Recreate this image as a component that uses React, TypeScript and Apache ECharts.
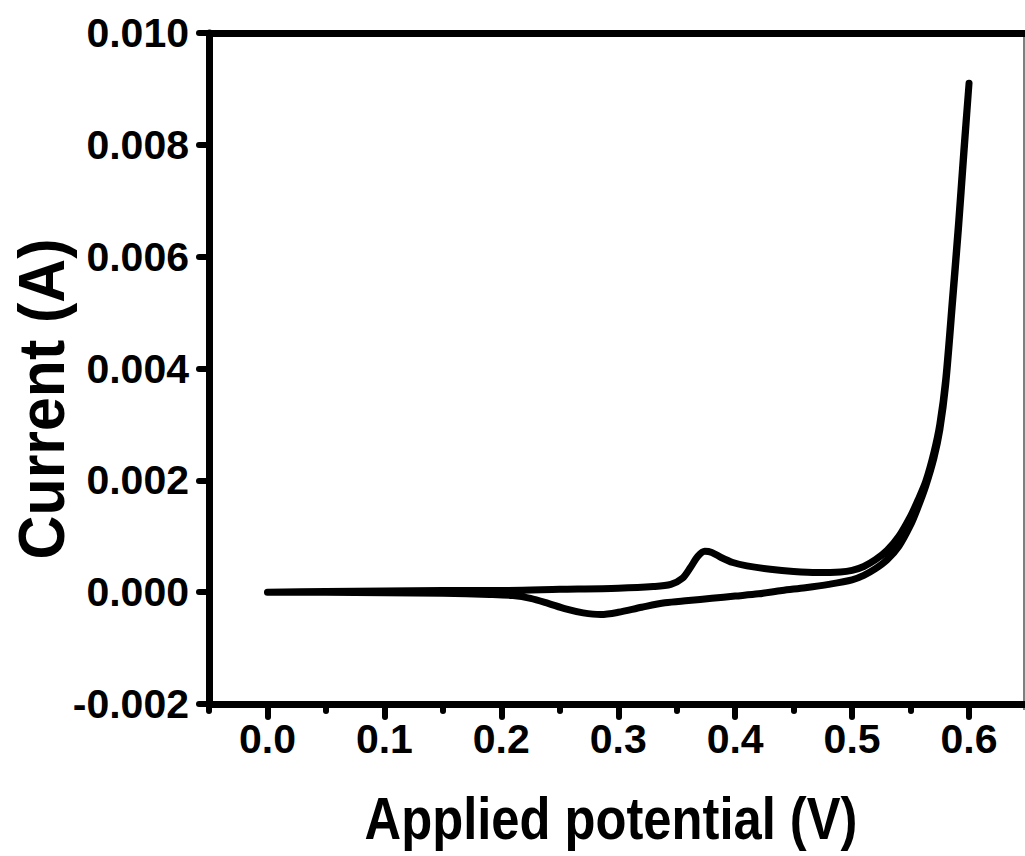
import React, { useEffect, useRef } from "react";
import * as echarts from "echarts";

// Forward scan (V, A)
const forwardPotential = [
  0.0, 0.05, 0.1, 0.15, 0.2, 0.25, 0.3, 0.33, 0.345, 0.355, 0.362, 0.368, 0.374,
  0.38, 0.388, 0.398, 0.41, 0.43, 0.45, 0.47, 0.49, 0.5, 0.51, 0.52, 0.53, 0.54,
  0.55, 0.556, 0.563, 0.57, 0.575, 0.58, 0.586, 0.591, 0.5955, 0.6,
];
const forwardCurrent = [
  0.0, 0.00001, 0.00002, 0.00003, 0.00003, 0.00005, 0.00007, 0.0001, 0.00014,
  0.00025, 0.00045, 0.00064, 0.00073, 0.00071, 0.00062, 0.00053, 0.00047,
  0.00041, 0.00037, 0.00035, 0.00036, 0.00039, 0.00046, 0.00058, 0.00075, 0.001,
  0.00136, 0.00163, 0.00198, 0.0025, 0.003, 0.0038, 0.0053, 0.0066, 0.0079, 0.0091,
];
// Reverse scan (V, A)
const reversePotential = [
  0.5955, 0.591, 0.586, 0.58, 0.575, 0.57, 0.563, 0.556, 0.55, 0.54, 0.53, 0.52,
  0.51, 0.5, 0.48, 0.46, 0.44, 0.42, 0.4, 0.38, 0.36, 0.34, 0.32, 0.3, 0.285,
  0.27, 0.255, 0.24, 0.225, 0.21, 0.19, 0.15, 0.1, 0.05, 0.0,
];
const reverseCurrent = [
  0.0078, 0.0065, 0.0052, 0.0037, 0.0029, 0.0024, 0.0019, 0.0015, 0.0012,
  0.00082, 0.00058, 0.00042, 0.0003, 0.00022, 0.00014, 0.00008, 0.00003,
  -0.00003, -0.00007, -0.00011, -0.00015, -0.00019, -0.00027, -0.00036,
  -0.0004, -0.00037, -0.0003, -0.0002, -0.00011, -0.00006, -0.00004, -0.00002,
  -0.00001, 0.0, 0.0,
];

const xMajorTicks = [0.0, 0.1, 0.2, 0.3, 0.4, 0.5, 0.6];
const xMinorTicks = [-0.05, 0.05, 0.15, 0.25, 0.35, 0.45, 0.55];
const xTitle = "Applied potential (V)";
const yTitle = "Current (A)";

const FONT = '"Liberation Sans", Arial, sans-serif';

export default function App() {
  const ref = useRef<HTMLDivElement>(null);
  useEffect(() => {
    if (!ref.current) return;
    const chart = echarts.init(ref.current, undefined, { renderer: "svg" });
    const data: number[][] = [];
    forwardPotential.forEach((p, i) => data.push([p, forwardCurrent[i]]));
    reversePotential.forEach((p, i) => data.push([p, reverseCurrent[i]]));

    const tickLabel = {
      color: "#000",
      fontFamily: FONT,
      fontWeight: "bold" as const,
      fontSize: 41,
    };

    chart.setOption({
      animation: false,
      backgroundColor: "#fff",
      grid: {
        left: 209,
        right: 2.5,
        top: 33,
        bottom: 152,
        containLabel: false,
        outerBoundsMode: "none",
      },
      xAxis: [
        {
          type: "value",
          min: -0.05,
          max: 0.65,
          position: "bottom",
          axisLine: { show: true, onZero: false, lineStyle: { color: "#000", width: 7 } },
          axisTick: {
            show: true,
            customValues: xMajorTicks,
            length: 13,
            lineStyle: { color: "#000", width: 6, cap: "round" },
          },
          axisLabel: {
            ...tickLabel,
            customValues: xMajorTicks,
            margin: 14,
            formatter: (v: number) => v.toFixed(1),
          },
          splitLine: { show: false },
        },
        {
          type: "value",
          min: -0.05,
          max: 0.65,
          position: "bottom",
          axisLine: { show: false, onZero: false },
          axisTick: {
            show: true,
            customValues: xMinorTicks,
            length: 7,
            lineStyle: { color: "#000", width: 6, cap: "round" },
          },
          axisLabel: { show: false },
          splitLine: { show: false },
        },
        {
          type: "value",
          min: -0.05,
          max: 0.65,
          position: "top",
          axisLine: { show: true, onZero: false, lineStyle: { color: "#000", width: 7 } },
          axisTick: { show: false },
          axisLabel: { show: false },
          splitLine: { show: false },
        },
      ],
      yAxis: [
        {
          type: "value",
          min: -0.002,
          max: 0.01,
          interval: 0.002,
          position: "left",
          axisLine: { show: true, onZero: false, lineStyle: { color: "#000", width: 7 } },
          axisTick: {
            show: true,
            length: 10,
            lineStyle: { color: "#000", width: 6, cap: "round" },
          },
          axisLabel: {
            ...tickLabel,
            margin: 20,
            formatter: (v: number) => v.toFixed(3),
          },
          splitLine: { show: false },
        },
      ],
      graphic: [
        {
          type: "line",
          shape: { x1: 1024, y1: 33, x2: 1024, y2: 710 },
          style: { stroke: "#555", lineWidth: 1.5 },
        },
        {
          type: "text",
          x: 611,
          y: 818,
          scaleX: 0.845,
          style: {
            text: xTitle,
            font: `bold 60px ${FONT}`,
            fill: "#000",
            textAlign: "center",
            textVerticalAlign: "middle",
          },
        },
        {
          type: "text",
          x: 41,
          y: 399,
          rotation: Math.PI / 2,
          scaleX: 0.95,
          style: {
            text: yTitle,
            font: `bold 64px ${FONT}`,
            fill: "#000",
            textAlign: "center",
            textVerticalAlign: "middle",
          },
        },
      ],
      series: [
        {
          type: "line",
          xAxisIndex: 0,
          yAxisIndex: 0,
          data,
          showSymbol: false,
          smooth: 0.3,
          lineStyle: { color: "#000", width: 7, cap: "round", join: "round" },
        },
      ],
    });
    return () => chart.dispose();
  }, []);

  return (
    <div
      ref={ref}
      style={{ position: "fixed", left: 0, top: 0, width: 1030, height: 856 }}
    />
  );
}
